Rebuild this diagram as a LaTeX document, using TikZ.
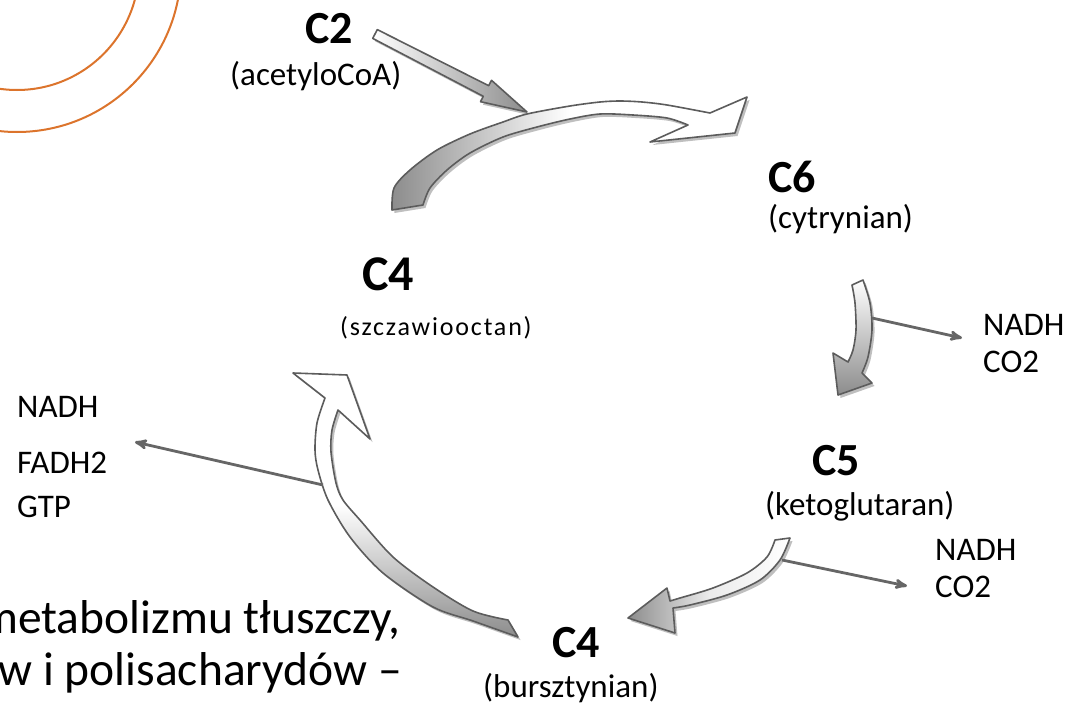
\documentclass[tikz,border=0pt]{standalone}
\usepackage{fontspec}
\setmainfont{Carlito}
\usetikzlibrary{positioning, arrows, shadows}
\definecolor{ringorange}{RGB}{220,116,44}
\tikzset{
cname/.style={font=\fontsize{46}{50}\selectfont\bfseries, inner sep=0pt, anchor=base west}, % C2, C4, C5, C6
cfull/.style={font=\fontsize{33}{36}\selectfont, inner sep=0pt, anchor=base west}, % name in brackets
yield/.style={font=\fontsize{33}{36}\selectfont, inner sep=0pt, anchor=base west}, % NADH, CO2, ...
slide/.style={font=\fontsize{47.5}{54}\selectfont, inner sep=0pt, anchor=base east}, % slide text behind
side/.style={->, >=stealth', draw=black!60, line width=2.8pt}, % small side arrows
block/.style={draw=black!64, line width=1.6pt, line join=round,
  drop shadow={shadow xshift=2.5pt, shadow yshift=-3pt, fill=black!25, opacity=1}}, % big arrows
}
\begin{document}
\begin{tikzpicture}[x=1pt, y=-1pt]
\useasboundingbox (0,0) rectangle (1069,704);
\clip (0,0) rectangle (1069,704);

% rings of the slide
\draw[ringorange, line width=2pt] (17,-32) circle[radius=122];
\draw[ringorange, line width=2pt] (17,-32) circle[radius=164];

% text of the slide
\node[slide] (line1) at (401,633) {metabolizmu tłuszczy,};
\node[slide] (line2) at (402,685) {w i polisacharydów –};

% compounds
\node[cname] (c2) at (305,43) {C2};
\node[cfull] (acet) at (230,85) {(acetyloCoA)};
\node[cname] (c6) at (768,192) {C6};
\node[cfull] (cytr) at (768,228) {(cytrynian)};
\node[cname] (c5) at (812,475) {C5};
\node[cfull] (keto) at (765,515) {(ketoglutaran)};
\node[cname] (c4b) at (552,657) {C4};
\node[cfull] (burs) at (483,697) {(bursztynian)};
\node[cname, font=\fontsize{50}{54}\selectfont\bfseries] (c4a) at (362,290) {C4};
\node[cfull, font=\fontsize{26}{30}\selectfont\addfontfeature{LetterSpace=7}] (szcz) at (340,335) {(szczawiooctan)};

% products
\node[yield] (nadhA) at (983,335) {NADH};
\node[yield] (co2A) at (983,372) {CO2};
\node[yield] (nadhB) at (935,560) {NADH};
\node[yield] (co2B) at (935,597) {CO2};
\node[yield] (nadhC) at (17,417) {NADH};
\node[yield] (fadh) at (17,473) {FADH2};
\node[yield] (gtp) at (17,517) {GTP};

% acetyloCoA coming in
\path[block, left color=white, right color=black!45]
  (377.3,29.6) -- (488.7,85.7) -- (491.5,80.3) -- (527,112) -- (480.5,101.7)
  -- (483.3,96.3) -- (372.7,38.4) -- cycle;

% C4 -> C6
\path[block, left color=black!45, right color=white, middle color=white]
  plot[smooth] coordinates {(392,210) (394,188) (410,170) (437,150) (470,134) (503,122)
    (527,114) (570,106) (600,102) (620,101) (642,102) (667,105) (710,113)}
  -- (747,97) -- (735,133) -- (650,142) -- (688,125)
  -- plot[smooth] coordinates {(688,125) (667,118) (633,115) (600,114) (570,119) (537,127)
    (503,137) (470,153) (447,170) (430,188) (423,205)}
  -- cycle;

% C6 -> C5
\path[block, top color=white, bottom color=black!45]
  plot[smooth] coordinates {(852,285) (855,303) (856,330) (853,350) (848,362)}
  -- (833,353) -- (838,395) -- (872,383) -- (862,373)
  -- plot[smooth] coordinates {(862,373) (868,357) (872,330) (870,303) (863,280)}
  -- cycle;

% C5 -> C4
\path[block, left color=black!45, right color=white, middle color=black!8]
  plot[smooth] coordinates {(790,538) (780,560) (760,580) (727,595) (690,605) (673,608)}
  -- (675,633) -- (628,618) -- (667,588) -- (670,601)
  -- plot[smooth] coordinates {(670,601) (680,598) (713,588) (747,573) (767,557) (775,540)}
  -- cycle;

% C4 -> C4
\path[block, top color=white, bottom color=black!45, middle color=white]
  plot[smooth] coordinates {(518,637) (473,621) (433,607) (383,573) (350,537) (328,500)
    (318,470) (315,450) (317,423) (325,398)}
  -- (293,373) -- (347,375) -- (370,439) -- (338,410)
  -- plot[smooth] coordinates {(338,410) (332,430) (331,452) (336,483) (343,500) (360,520)
    (393,557) (433,587) (473,611) (508,620)}
  -- cycle;

% side products
\coordinate (outA) at (872,318);
\coordinate (endA) at (962,338);
\coordinate (outB) at (782,560);
\coordinate (endB) at (907,586);
\coordinate (outC) at (323,485);
\coordinate (endC) at (135,442);
\draw[side] (outA) -- (endA);
\draw[side] (outB) -- (endB);
\draw[side] (outC) -- (endC);
\end{tikzpicture}
\end{document}
